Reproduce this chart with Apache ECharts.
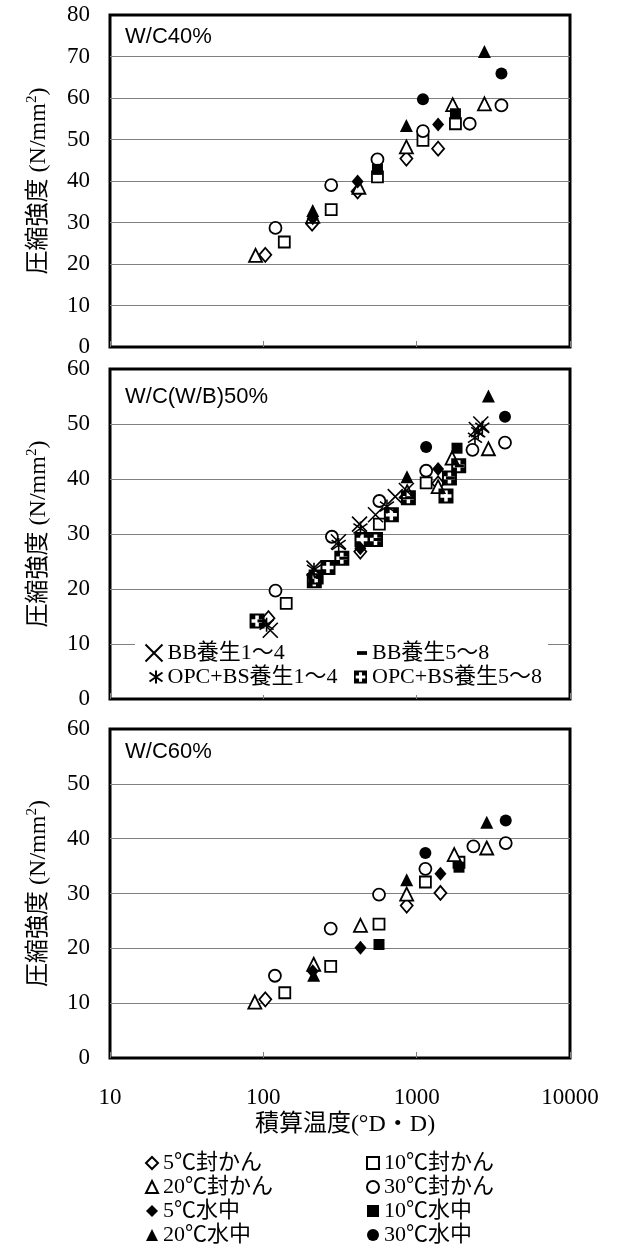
<!DOCTYPE html>
<html><head><meta charset="utf-8">
<script src="https://cdn.jsdelivr.net/npm/echarts@6/dist/echarts.min.js"></script>
<style>html,body{margin:0;padding:0;background:#fff}#c{width:619px;height:1250px}</style>
</head><body><div id="c"></div>
<script>
// ---------- data ----------
const xTicks = [10, 100, 1000, 10000];
const panelTitles = ['W/C40%', 'W/C(W/B)50%', 'W/C60%'];
const yMaxes = [80, 60, 60];
const sealedNames = ['5℃封かん', '10℃封かん', '20℃封かん', '30℃封かん'];
const waterNames = ['5℃水中', '10℃水中', '20℃水中', '30℃水中'];
const bbNames = ['BB養生1～4', 'BB養生5～8', 'OPC+BS養生1～4', 'OPC+BS養生5～8'];

// W/C40%
const wc40_s5  = [[103,22.2],[208,29.7],[412,37.5],[857,45.4],[1380,47.8]];
const wc40_s10 = [[137,25.3],[277,33.1],[555,41.0],[1099,49.8],[1790,53.8]];
const wc40_s20 = [[89,22.1],[210,31.5],[420,38.5],[857,48.2],[1718,58.4],[2767,58.6]];
const wc40_s30 = [[120,28.7],[277,39.0],[555,45.2],[1099,52.0],[2218,53.8],[3572,58.2]];
const wc40_w5  = [[210,31.0],[412,39.9],[1380,53.6]];
const wc40_w10 = [[555,42.8],[1790,56.2]];
const wc40_w20 = [[210,32.9],[857,53.4],[2767,71.2]];
const wc40_w30 = [[1099,59.7],[3572,65.9]];

// W/C(W/B)50%
const wc50_s5  = [[108,14.7],[429,26.8],[1380,39.2]];
const wc50_s10 = [[141,17.4],[571,31.8],[1153,39.3]];
const wc50_s20 = [[867,37.7],[1380,38.6],[1702,43.8],[2937,45.5]];
const wc50_s30 = [[120,19.7],[280,29.5],[571,36.0],[1153,41.5],[2312,45.3],[3767,46.6]];
const wc50_w5  = [[429,27.4],[1380,41.8]];
const wc50_w10 = [[1833,45.6]];
const wc50_w20 = [[865,40.4],[2937,55.1]];
const wc50_w30 = [[1153,45.8],[3767,51.3]];
const wc50_bb14  = [[111,12.5],[214,23.8],[309,28.6],[424,31.8],[539,33.5],[725,36.8],[857,37.9],[2450,49.0],[2620,50.0]];
const wc50_bb58  = [[98,14.2],[228,22.2],[335,25.6],[560,29.0],[900,36.6],[1660,40.2],[1900,42.4]];
const wc50_opc14 = [[105,13.5],[214,23.5],[310,28.0],[430,31.0],[640,35.0],[2400,47.5],[2520,48.5],[2680,49.3]];
const wc50_opc58 = [[91,14.2],[215,21.5],[221,22.2],[264,23.9],[325,25.6],[440,29.0],[539,29.0],[684,33.5],[883,36.6],[1553,36.9],[1636,40.2],[1880,42.4]];

// W/C60%
const wc60_s5  = [[103,10.7],[861,27.8],[1429,30.1]];
const wc60_s10 = [[138,11.9],[275,16.7],[568,24.4],[1140,32.1],[1888,35.7]];
const wc60_s20 = [[88,10.2],[213,17.1],[430,24.2],[861,29.9],[1758,37.1],[2864,38.3]];
const wc60_s30 = [[119,15.0],[275,23.6],[568,29.8],[1140,34.5],[2344,38.6],[3810,39.2]];
const wc60_w5  = [[210,15.8],[430,20.1],[1429,33.6]];
const wc60_w10 = [[568,20.7],[1888,34.8]];
const wc60_w20 = [[213,15.1],[861,32.5],[2864,43.0]];
const wc60_w30 = [[1140,37.4],[3810,43.3]];

const panelData = [
  [wc40_s5, wc40_s10, wc40_s20, wc40_s30, wc40_w5, wc40_w10, wc40_w20, wc40_w30],
  [wc50_s5, wc50_s10, wc50_s20, wc50_s30, wc50_w5, wc50_w10, wc50_w20, wc50_w30],
  [wc60_s5, wc60_s10, wc60_s20, wc60_s30, wc60_w5, wc60_w10, wc60_w20, wc60_w30]
];
const bbData = [wc50_bb14, wc50_bb58, wc50_opc14, wc50_opc58];

// ---------- styles ----------
const SERIF = "'Liberation Serif', 'Noto Sans CJK JP', serif";
const SANS = "'Liberation Sans', Arial, sans-serif";
const baseSymbols = [
  {symbol: 'diamond', size: [12, 14]},
  {symbol: 'rect', size: 11},
  {symbol: 'triangle', size: 13},
  {symbol: 'circle', size: 12}
];
const crossPath = 'path://M0,0L10,10M10,0L0,10';
const starPath = 'path://M5,0L5,10M0,1.5L10,8.5M10,1.5L0,8.5';
const dashPath = 'path://M0,0L8,0L8,3L0,3Z';
const plusBoxPath = 'path://M0,0L12,0L12,12L0,12Z M4.6,1.6L4.6,4.6L1.6,4.6L1.6,7.4L4.6,7.4L4.6,10.4L7.4,10.4L7.4,7.4L10.4,7.4L10.4,4.6L7.4,4.6L7.4,1.6Z';
const bbStyles = [
  {symbol: crossPath, size: 15, color: 'none', border: '#000', bw: 1.6},
  {symbol: dashPath, size: [9, 3], color: '#000', border: '#000', bw: 0},
  {symbol: starPath, size: 14, color: 'none', border: '#000', bw: 1.6},
  {symbol: plusBoxPath, size: 15, color: '#000', border: '#000', bw: 0}
];

const grids = [
  {left: 110, top: 15, width: 460, height: 332},
  {left: 110, top: 369, width: 460, height: 330},
  {left: 110, top: 729, width: 460, height: 329}
].map(g => Object.assign(g, {show: true, borderColor: '#000', borderWidth: 3, backgroundColor: 'transparent'}));

const xAxes = grids.map((g, i) => ({
  type: 'log', logBase: 10, min: xTicks[0], max: xTicks[xTicks.length - 1], splitNumber: 3,
  gridIndex: i,
  axisLine: {show: false},
  axisTick: {show: true, inside: true, length: 6, lineStyle: {color: '#808080', width: 1}},
  splitLine: {show: false},
  axisLabel: {show: i === 2, margin: 28, fontSize: 23, fontFamily: SERIF, color: '#000',
    formatter: v => String(Math.round(v))},
  name: i === 2 ? '積算温度(°D・D)' : '',
  nameLocation: 'middle', nameGap: 55,
  nameTextStyle: {fontSize: 24, fontFamily: SERIF, color: '#000', padding: [0, 0, 0, 10]}
}));

const yAxes = grids.map((g, i) => ({
  type: 'value', min: 0, max: yMaxes[i], interval: 10, gridIndex: i,
  axisLine: {show: false}, axisTick: {show: false},
  splitLine: {show: true, showMinLine: false, showMaxLine: false, lineStyle: {color: '#7f7f7f', width: 1}},
  axisLabel: {margin: 20, fontSize: 23, fontFamily: SERIF, color: '#000'},
  name: '{t|圧縮強度 (N/mm}{s|2}{t|)}',
  nameLocation: 'middle', nameRotate: 90, nameGap: 57,
  nameTextStyle: {
    rich: {
      t: {fontSize: 24, fontFamily: SERIF, color: '#000', lineHeight: 28},
      s: {fontSize: 15, fontFamily: SERIF, color: '#000', lineHeight: 14, verticalAlign: 'top'}
    }
  }
}));

const series = [];
const allNames = sealedNames.concat(waterNames);
panelData.forEach((arrs, p) => {
  arrs.forEach((d, k) => {
    const bs = baseSymbols[k % 4];
    const filled = k >= 4;
    series.push({
      type: 'scatter', name: allNames[k], xAxisIndex: p, yAxisIndex: p,
      data: d, symbol: bs.symbol, symbolSize: bs.size,
      itemStyle: {color: filled ? '#000' : '#fff', borderColor: '#000', borderWidth: filled ? 0 : 1.8, opacity: 1},
      emphasis: {disabled: true}, z: 2 + k * 0.01
    });
  });
});
bbData.forEach((d, k) => {
  const st = bbStyles[k];
  series.push({
    type: 'scatter', name: bbNames[k], xAxisIndex: 1, yAxisIndex: 1,
    data: d, symbol: st.symbol, symbolSize: st.size,
    itemStyle: {color: st.color, borderColor: st.border, borderWidth: st.bw, opacity: 1},
    emphasis: {disabled: true}, z: 3 + k * 0.01
  });
});

const legendText = {fontSize: 22, fontFamily: SERIF, color: '#000', lineHeight: 22};
const option = {
  animation: false,
  backgroundColor: '#fff',
  grid: grids, xAxis: xAxes, yAxis: yAxes, series: series,
  title: [
    {text: panelTitles[0], left: 125, top: 26},
    {text: panelTitles[1], left: 125, top: 386},
    {text: panelTitles[2], left: 125, top: 741}
  ].map(t => Object.assign(t, {padding: 0, textStyle: {fontSize: 22, fontFamily: SANS, fontWeight: 'normal', color: '#000'}})),
  legend: [
    {data: [sealedNames[0], sealedNames[2], waterNames[0], waterNames[2]], left: 145, top: 1152},
    {data: [sealedNames[1], sealedNames[3], waterNames[1], waterNames[3]], left: 366, top: 1152},
    {data: [bbNames[0]], left: 143, top: 642, itemWidth: 17, itemHeight: 17},
    {data: [bbNames[2]], left: 147, top: 666, itemWidth: 13, itemHeight: 13},
    {data: [bbNames[1]], left: 357, top: 642, itemWidth: 10, itemHeight: 4},
    {data: [bbNames[3]], left: 354, top: 666, itemWidth: 13, itemHeight: 13}
  ].map(l => Object.assign({orient: 'vertical', itemWidth: 12, itemHeight: 12, itemGap: 2, padding: 0,
    selectedMode: false, textStyle: legendText}, l)),
  graphic: [
    {type: 'rect', shape: {x: 135, y: 637, width: 413, height: 58}, style: {fill: '#fff'}, z: 1, silent: true}
  ]
};
const chart = echarts.init(document.getElementById('c'));
chart.setOption(option);
</script></body></html>
